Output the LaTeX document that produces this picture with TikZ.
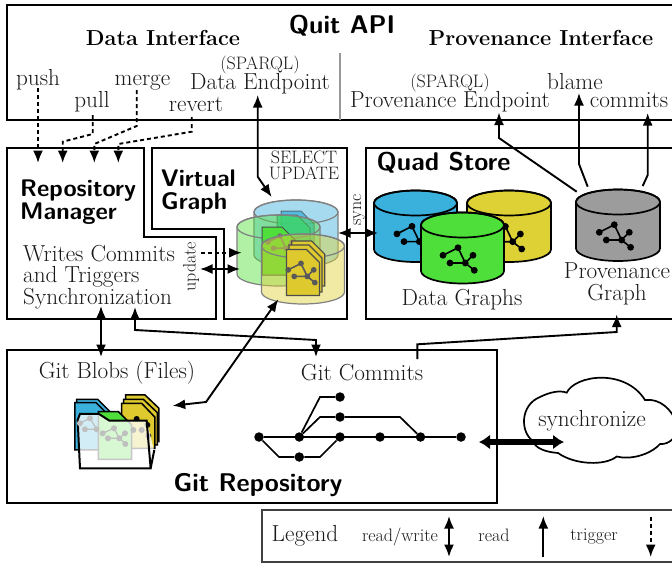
\documentclass[tikz,border=0pt]{standalone}
\usetikzlibrary{arrows.meta}
\definecolor{cblue}{HTML}{3AB0DC}
\definecolor{cyell}{HTML}{DDD135}
\definecolor{cyd}{HTML}{DEC92E}
\definecolor{cgreen}{HTML}{4FDF3A}
\definecolor{cgray}{HTML}{9C9C9C}
\newcommand\cyl[6]{%
 \draw[#6] ({#1-#3},#2) -- ({#1-#3},{#2+#5}) arc[start angle=180,end angle=360,x radius=#3pt,y radius=#4pt] -- ({#1+#3},#2) arc[start angle=0,end angle=180,x radius=#3pt,y radius=#4pt] -- cycle;
 \draw[#6,fill=none] (#1,#2) ellipse[x radius=#3pt,y radius=#4pt];}
\newcommand\gicon[3]{%
 \begin{scope}[shift={(#1,#2)},#3]
 \draw[line width=1.6pt] (-15,-3.7)--(0,-11.3)--(7.3,4)--(-8,4) (7.3,4)--(15,-3.7) (7.3,4)--(16.3,11.3);
 \foreach \p in {(-15,-3.7),(0,-11.3),(15,-3.7),(-8,4),(7.3,4),(16.3,11.3)} \fill \p circle[radius=3.4pt];
 \end{scope}}
\newcommand\docp[5]{% x y w h fill
 \draw[#5] (#1,#2) -- ({#1+#3-13},#2) -- ({#1+#3},{#2+13}) -- ({#1+#3},{#2+#4}) -- (#1,{#2+#4}) -- cycle;}
\tikzset{
 box/.style={draw=black,line width=2.1pt,line join=miter},
 txt/.style={inner sep=0pt,anchor=base,align=center,font=\fontsize{23.2}{22.7}\selectfont,text=black!90},
 small/.style={inner sep=0pt,anchor=base,align=center,font=\fontsize{18}{16.3}\selectfont,text=black!90},
 head/.style={inner sep=0pt,anchor=base,align=center,font=\fontsize{21.7}{24}\selectfont\bfseries},
 sf/.style={inner sep=0pt,align=left,font=\fontsize{24}{23}\selectfont\sffamily\bfseries},
 sfb/.style={inner sep=0pt,anchor=base,font=\fontsize{25.6}{24}\selectfont\sffamily\bfseries},
 rw/.style={line width=1.9pt,{Latex[length=12.5pt,width=10pt]}-{Latex[length=12.5pt,width=10pt]},line join=miter},
 rd/.style={line width=1.9pt,-{Latex[length=12.5pt,width=10pt]}},
 tg/.style={line width=1.9pt,dash pattern=on 4pt off 3pt,-{Latex[length=12.5pt,width=10pt]}},
 qc/.style={draw=black,line width=1.7pt},
 vc/.style={draw=black!50,line width=1.2pt,fill opacity=.45},
 dy/.style={draw=black!70,line width=1.1pt,fill=cyd},
}
\begin{document}
\begin{tikzpicture}[x=1pt,y=-1pt]
\useasboundingbox (0,0) rectangle (672,563);
\clip (0,0) rectangle (672,563);
% boxes
\draw[box] (690,5) -- (7,5) -- (7,120) -- (690,120);
\draw[black!40,line width=1.5pt] (340,53) -- (340,120);
\draw[box] (7,148) -- (144,148) -- (144,237) -- (216,237) -- (216,319) -- (7,319) -- cycle;
\draw[box] (152,148) -- (347,148) -- (347,319) -- (224,319) -- (224,229) -- (152,229) -- cycle;
\draw[box] (690,148) -- (366,148) -- (366,319) -- (690,319);
\draw[box] (7,350) rectangle (497,503);
\draw[black!75,line width=1.2pt] (690,510) -- (262,510) -- (262,562) -- (690,562);
% titles
\node[sfb] (quit) at (342,33) {Quit API};
\node[head] (dataif) at (163,45) {Data Interface};
\node[head] (provif) at (541,45.5) {Provenance Interface};
\node[txt] (push) at (38,85) {push};
\node[txt] (pull) at (92,107) {pull};
\node[txt] (merge) at (142.5,85) {merge};
\node[txt] (revert) at (196,111) {revert};
\node[small] (sp1) at (260,69) {(SPARQL)};
\node[txt] (dep) at (260,89) {Data Endpoint};
\node[small] (sp2) at (450,87.5) {(SPARQL)};
\node[txt] (pep) at (450,107) {Provenance Endpoint};
\node[txt] (blame) at (575,89) {blame};
\node[txt] (commits) at (629,107) {commits};
\node[sf,anchor=north west] (rm) at (20,180) {Repository\\Manager};
\node[txt,align=left,anchor=north west,font=\fontsize{23.2}{21.5}\selectfont] (wc) at (23,245) {Writes Commits\\and Triggers\\Synchronization};
\node[sf,anchor=north west] (vg) at (161,170) {Virtual\\Graph};
\node[small,anchor=north] (su) at (304,150.4) {SELECT\\UPDATE};
\node[sfb] (qs) at (443.5,170.7) {Quad Store};
\node[txt] (dg) at (462,305.7) {Data Graphs};
\node[txt,anchor=north] (pg) at (617,262.2) {Provenance\\Graph};
\node[txt] (gb) at (117,378) {Git Blobs (Files)};
\node[txt] (gc) at (362,380.7) {Git Commits};
\node[sfb] (gr) at (258,491) {Git Repository};
\node[small,rotate=90] (upd) at (195.5,266.7) {update};
\node[small,rotate=90] (syn) at (361,210) {sync};
% virtual graph cylinders
\cyl{296}{212}{42}{12}{43}{vc,fill=cblue}
\begin{scope}[opacity=.75]
\docp{281}{211}{33}{40}{draw=black!70,line width=1pt,fill=cblue}
\docp{277}{215}{33}{40}{draw=black!70,line width=1pt,fill=cblue!70!green}
\end{scope}
\cyl{278.5}{227}{41.5}{12}{47}{vc,fill=cgreen}
\docp{262}{227}{33}{48}{draw=black!70,line width=1pt,fill=cgreen}
\gicon{280}{245}{black!55,scale=.8}
\cyl{303}{246}{41.5}{12}{46}{vc,fill=cyell}
\docp{291.7}{241}{33}{45}{dy}
\docp{289}{245}{33}{47}{dy}
\docp{286.5}{249.5}{33}{46}{dy}
\gicon{301}{273}{black!65,scale=.85}
% quad store cylinders
\cyl{415.5}{203}{41.5}{12.5}{46.5}{qc,fill=cblue}
\gicon{412}{237.6}{black}
\cyl{509}{203}{42}{12.5}{46.5}{qc,fill=cyell}
\gicon{505.4}{237.7}{black}
\cyl{462.5}{225}{41.5}{12.5}{46}{qc,fill=cgreen}
\gicon{458}{259}{black}
\cyl{618}{202}{42}{12.5}{46.5}{qc,fill=cgray}
\gicon{614.3}{236}{black}
% folder
\begin{scope}[x=0.3333pt,y=-0.3333pt,shift={(90,1020)},line width=1.5pt]
\draw[fill=cyd] (287,165)--(345,165)--(387,205)--(387,305)--(287,305)--cycle;
\draw[fill=cyd] (281,178)--(340,178)--(382,218)--(382,315)--(281,315)--cycle;
\draw[fill=cyd] (275,190)--(335,190)--(375,232)--(375,325)--(275,325)--cycle;
\fill (320,237) circle[radius=3pt] (352,255) circle[radius=3pt] (355,288) circle[radius=3pt];
\draw[fill=cblue] (140,178)--(203,178)--(240,215)--(240,320)--(140,320)--cycle;
\draw[fill=cblue] (135,188)--(198,188)--(235,225)--(235,330)--(135,330)--cycle;
\draw[fill=cgreen] (205,215)--(265,215)--(305,255)--(305,358)--(205,358)--cycle;
\path[fill=white,fill opacity=.78] (143,240)--(150,222)--(207,222)--(238,242)--(350,242)--(372,330)--(362,385)--(150,385)--cycle;
\draw[line width=2pt] (150,385)--(143,240)--(150,222)--(207,222)--(238,242)--(350,242)--(362,385)--cycle;
\draw[line width=2pt] (362,385)--(373,330);
\begin{scope}[black!25,line width=1.2pt]
\draw (150,250)--(180,235)--(200,268)--(165,268) (252,265)--(268,295)--(234,295) (268,295)--(286,312) (268,295)--(285,280) (252,265)--(218,280);
\foreach \p in {(150,250),(180,235),(200,268),(165,268),(252,265),(268,295),(234,295),(286,312),(285,280),(218,280),(335,270),(310,270)} \fill \p circle[radius=3pt];
\end{scope}
\end{scope}
% git graph
\foreach \n/\x/\y in {c1/259/437,c2/299.3/437,c3/340/437,c4/380/437,c5/420.5/437,c6/461/437,u1/340/417,u2/340/397,l1/299.3/457}{
 \node[circle,fill=black,inner sep=0pt,minimum size=9.5pt] (\n) at (\x,\y) {};}
\draw[line width=1.7pt] (c1)--(c6);
\draw[line width=1.7pt] (c1)--(279,457)--(l1)--(320,457)--(c3);
\draw[line width=1.7pt] (c2)--(320,397)--(u2);
\draw[line width=1.7pt] (c2)--(320,417)--(u1)--(400,417)--(c5);
% cloud
\node[txt] (syncn) at (592,426.7) {synchronize};
\draw[line width=1.7pt] (566.7,392.7) .. controls (575,375) and (625,368) .. (645,400)
 .. controls (660,398) and (672,410) .. (676,422)
 .. controls (680,435) and (670,445) .. (660,444)
 .. controls (650,455) and (630,460) .. (616.7,456.5)
 .. controls (605,466) and (575,465) .. (558,453)
 .. controls (545,452) and (535,448) .. (533,441)
 .. controls (520,432) and (520,405) .. (540,397)
 .. controls (550,392) and (560,390) .. (566.7,392.7) -- cycle;
% endpoints
\foreach \n/\x/\y in {ap/38/88,bp/38/163,aq/92.7/115,bq/62.7/163,am/136.7/90,bm/94.3/163,ar/191.7/117,br/118.3/163,
 de/257.7/95,cb/271.7/197,ua/201/252.7,ub/241.7/252.7,va/200/269,vb/240/269,sa/338/233,sb/378/233,
 ra/101/306,rb/101/357,rc/135/307,rd/316/357,ya/278.3/299.3,yb/172.7/405.7,ga/417.3/359,gb2/616.7/314.5,
 pa/576.7/191.7,pb/499/112.5,ba/587.7/186.7,bb/579/93,ca/642.7/186,cb2/647.7/113,sy1/479/442,sy2/564/442}
 {\coordinate (\n) at (\x,\y);}
% arrows
\draw[tg] (ap) -- (bp);
\draw[tg] (aq) -- (92.7,134) -- (62.7,141.7) -- (bq);
\draw[tg] (am) -- (136.7,126) -- (94.3,144) -- (bm);
\draw[tg] (ar) -- (191.7,131.7) -- (118.3,144) -- (br);
\draw[rw] (de) -- (257.7,176.7) -- (cb);
\draw[tg] (ua) -- (ub);
\draw[rw] (va) -- (vb);
\draw[rw] (sa) -- (sb);
\draw[rw] (ra) -- (rb);
\draw[rw] (rc) -- (135,330) -- (316,340) -- (rd);
\draw[rw] (ya) -- (206,402) -- (yb);
\draw[rd] (ga) -- (417.3,344.3) -- (616.7,332) -- (gb2);
\draw[rd] (pa) -- (499,138) -- (pb);
\draw[rd] (ba) -- (579,164) -- (bb);
\draw[rd] (ca) -- (647.7,175) -- (cb2);
\draw[line width=5.5pt,{Latex[length=11pt,width=15pt]}-{Latex[length=11pt,width=15pt]}] (sy1) -- (sy2);
% legend
\node[txt] (leg) at (305,541.7) {Legend};
\node[small] (lrw) at (400,541) {read/write};
\node[small] (lrd) at (494,541.7) {read};
\node[small] (ltr) at (594,540) {trigger};
\coordinate (l1a) at (449,516); \coordinate (l1b) at (449,557);
\coordinate (l2a) at (543.3,557); \coordinate (l2b) at (543.3,516);
\coordinate (l3a) at (650.7,516.7); \coordinate (l3b) at (650.7,557);
\draw[rw] (l1a) -- (l1b);
\draw[rd] (l2a) -- (l2b);
\draw[tg] (l3a) -- (l3b);
\end{tikzpicture}
\end{document}
